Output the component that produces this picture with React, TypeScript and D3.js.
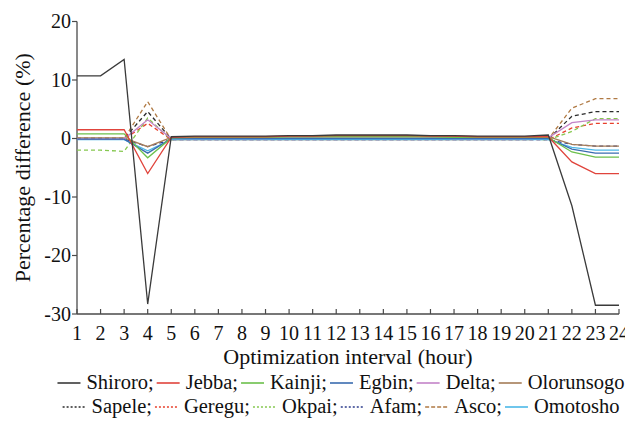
import React, { useMemo } from 'react';
import * as d3 from 'd3';

const hours = d3.range(1, 25);
const yTicks = [20, 10, 0, -10, -20, -30];

const shiroro = [10.7, 10.7, 13.5, -28.3, 0.3, 0.4, 0.4, 0.4, 0.4, 0.5, 0.5, 0.6, 0.6, 0.6, 0.6, 0.5, 0.5, 0.4, 0.4, 0.4, 0.6, -11.5, -28.5, -28.5];
const jebba = [1.5, 1.5, 1.5, -6, 0.2, 0.3, 0.3, 0.3, 0.3, 0.4, 0.4, 0.5, 0.5, 0.5, 0.5, 0.4, 0.4, 0.3, 0.3, 0.3, 0.3, -4, -6, -6];
const kainji = [0.8, 0.8, 0.8, -3.3, 0.1, 0.2, 0.2, 0.2, 0.2, 0.3, 0.3, 0.3, 0.3, 0.3, 0.3, 0.3, 0.2, 0.2, 0.2, 0.2, 0.2, -2.3, -3.2, -3.2];
const egbin = [-0.1, -0.1, -0.1, -2.5, 0, 0, 0, 0, 0, 0, 0, 0, 0, 0, 0, 0, 0, 0, 0, 0, 0, -1.8, -2.5, -2.5];
const delta = [-0.1, -0.1, -0.1, 3.2, 0, 0, 0, 0, 0, 0.1, 0.1, 0.1, 0.1, 0.1, 0.1, 0.1, 0, 0, 0, 0, 0.1, 2.7, 3.2, 3.2];
const olorunsogo = [0.1, 0.1, 0.1, -1.4, 0.2, 0.3, 0.3, 0.3, 0.3, 0.3, 0.3, 0.4, 0.4, 0.4, 0.4, 0.3, 0.3, 0.3, 0.3, 0.3, 0.3, -1, -1.3, -1.3];
const sapele = [0, 0, 0, 4.6, -0.1, -0.1, -0.1, -0.1, -0.1, -0.1, -0.1, -0.1, -0.1, -0.1, -0.1, -0.1, -0.1, -0.1, -0.1, -0.1, -0.1, 3.8, 4.6, 4.6];
const geregu = [-0.1, -0.1, -0.1, 2.6, -0.2, -0.2, -0.2, -0.2, -0.2, -0.2, -0.2, -0.2, -0.2, -0.2, -0.2, -0.2, -0.2, -0.2, -0.2, -0.2, -0.2, 1.8, 2.6, 2.6];
const okpai = [-2, -2, -2.2, 3.5, -0.2, -0.1, -0.1, -0.1, -0.1, -0.1, -0.1, -0.1, -0.1, -0.1, -0.1, -0.1, -0.1, -0.1, -0.1, -0.1, -0.2, 1.2, 3.4, 3.4];
const afam = [-0.1, -0.1, -0.1, -1.4, -0.2, -0.2, -0.2, -0.2, -0.2, -0.2, -0.2, -0.2, -0.2, -0.2, -0.2, -0.2, -0.2, -0.2, -0.2, -0.2, -0.2, -1, -1.3, -1.3];
const asco = [0, 0, 0, 6.3, -0.2, -0.2, -0.2, -0.2, -0.2, -0.2, -0.2, -0.2, -0.2, -0.2, -0.2, -0.2, -0.2, -0.2, -0.2, -0.2, -0.1, 5.2, 6.8, 6.8];
const omotosho = [-0.2, -0.2, -0.2, -2.1, -0.2, -0.2, -0.2, -0.2, -0.2, -0.2, -0.2, -0.2, -0.2, -0.2, -0.2, -0.2, -0.2, -0.2, -0.2, -0.2, -0.2, -1.5, -2, -2];

// drawing order: dashed first, solids on top
const series = [
  { name: 'Sapele', values: sapele, color: '#2a2a2a', dash: '4,3', legendDash: '2,2' },
  { name: 'Geregu', values: geregu, color: '#e8402c', dash: '4,3', legendDash: '2,2' },
  { name: 'Okpai', values: okpai, color: '#86c850', dash: '4,3', legendDash: '2,2' },
  { name: 'Afam', values: afam, color: '#2c3c8c', dash: '4,3', legendDash: '2,2' },
  { name: 'Asco', values: asco, color: '#b07a44', dash: '4,3', legendDash: '4,2' },
  { name: 'Omotosho', values: omotosho, color: '#4cb8e8', dash: undefined, legendDash: undefined },
  { name: 'Olorunsogo', values: olorunsogo, color: '#a47c58', dash: undefined, legendDash: undefined },
  { name: 'Delta', values: delta, color: '#c384c8', dash: undefined, legendDash: undefined },
  { name: 'Egbin', values: egbin, color: '#3a6cb0', dash: undefined, legendDash: undefined },
  { name: 'Kainji', values: kainji, color: '#6cc04c', dash: undefined, legendDash: undefined },
  { name: 'Jebba', values: jebba, color: '#e0443c', dash: undefined, legendDash: undefined },
  { name: 'Shiroro', values: shiroro, color: '#3a3a3a', dash: undefined, legendDash: undefined },
];

const legendRows = [
  ['Shiroro', 'Jebba', 'Kainji', 'Egbin', 'Delta', 'Olorunsogo'],
  ['Sapele', 'Geregu', 'Okpai', 'Afam', 'Asco', 'Omotosho'],
];

const FONT = "'Liberation Serif'";
const W = 633;
const H = 428;
const margin = { left: 77, right: 14, top: 21.5, bottom: 114 };
const axisColor = '#4a4a4a';
const textColor = '#111';

const legendFont = 20.5;
const glyph = 23;

const App = () => {
  const x = d3.scaleLinear().domain([1, 24]).range([margin.left, W - margin.right]);
  const y = d3.scaleLinear().domain([-30, 20]).range([H - margin.bottom, margin.top]);
  const line = d3
    .line<number>()
    .x((_, i) => x(hours[i]))
    .y((d) => y(d));

  // legend layout, measured with the same font
  const legend = useMemo(() => {
    const ctx = document.createElement('canvas').getContext('2d')!;
    ctx.font = `${legendFont}px ${FONT}`;
    return legendRows.map((row) => {
      let cx = 0;
      const items = row.map((name, i) => {
        const s = series.find((d) => d.name === name)!;
        const label = i < row.length - 1 ? `${name};` : name;
        const item = { s, label, lx: cx, tx: cx + glyph + 6 };
        cx = item.tx + ctx.measureText(label).width + 3;
        return item;
      });
      return { items, width: cx - 3 };
    });
  }, []);

  const x0 = x(1);
  const x1 = x(24);
  const yBottom = y(-30);

  return (
    <svg width={W} height={H} style={{ display: 'block', margin: '-8px' }}>
      <rect width={W} height={H} fill="#fff" />

      {/* Y axis */}
      <line x1={x0} x2={x0} y1={y(20)} y2={yBottom} stroke={axisColor} strokeWidth={1.3} />
      {yTicks.map((t) => (
        <g key={t}>
          <line x1={x0 - 5} x2={x0} y1={y(t)} y2={y(t)} stroke={axisColor} strokeWidth={1.2} />
          <text
            x={x0 - 6}
            y={y(t)}
            dy="0.34em"
            textAnchor="end"
            fontFamily={FONT}
            fontSize={20}
            fill={textColor}
          >
            {String(t)}
          </text>
        </g>
      ))}

      {/* X axis, ticks pointing inward */}
      <line x1={x0} x2={x1} y1={yBottom} y2={yBottom} stroke={axisColor} strokeWidth={1.3} />
      {hours.map((h) => (
        <g key={h}>
          <line x1={x(h)} x2={x(h)} y1={yBottom} y2={yBottom - 5} stroke={axisColor} strokeWidth={1.2} />
          <text x={x(h)} y={yBottom + 25.5} textAnchor="middle" fontFamily={FONT} fontSize={20} fill={textColor}>
            {String(h)}
          </text>
        </g>
      ))}

      {/* Series */}
      {series.map((s) => (
        <path
          key={s.name}
          d={line(s.values) || ''}
          fill="none"
          stroke={s.color}
          strokeWidth={1.3}
          strokeDasharray={s.dash}
        />
      ))}

      {/* Axis titles */}
      <text x={(x0 + x1) / 2} y={364} textAnchor="middle" fontFamily={FONT} fontSize={22} fill={textColor}>
        Optimization interval (hour)
      </text>
      <text
        transform={`translate(30,${(y(20) + yBottom) / 2}) rotate(-90)`}
        textAnchor="middle"
        fontFamily={FONT}
        fontSize={22}
        fill={textColor}
      >
        Percentage difference (%)
      </text>

      {/* Legend */}
      {legend.map((row, r) => (
        <g key={r} transform={`translate(${341 - row.width / 2},${[389, 413][r]})`}>
          {row.items.map((it) => (
            <g key={it.s.name}>
              <line
                x1={it.lx}
                x2={it.lx + glyph}
                y1={-6}
                y2={-6}
                stroke={it.s.color}
                strokeWidth={1.6}
                strokeDasharray={it.s.legendDash}
              />
              <text x={it.tx} y={0} fontFamily={FONT} fontSize={legendFont} fill={textColor}>
                {it.label}
              </text>
            </g>
          ))}
        </g>
      ))}
    </svg>
  );
};

export default App;
